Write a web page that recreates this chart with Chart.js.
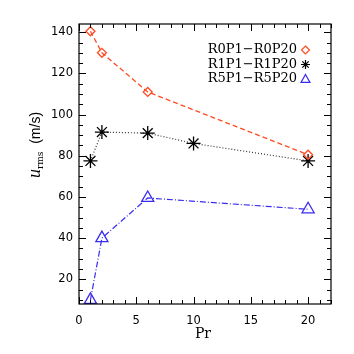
<!DOCTYPE html>
<html>
<head>
<meta charset="utf-8">
<script src="https://cdn.jsdelivr.net/npm/chart.js@4"></script>
<style>
  html, body { margin: 0; padding: 0; background: #fff; }
  #wrap { width: 354px; height: 354px; }
</style>
</head>
<body>
<div id="wrap"><canvas id="urms"></canvas></div>
<script>
// ── данные
const prR0 = [1, 2, 6, 20];
const uR0  = [140.5, 130, 111, 80.5];
const prR1 = [1, 2, 6, 10, 20];
const uR1  = [77.5, 91.5, 91, 86, 77.5];
const prR5 = [1, 2, 6, 20];
const uR5  = [10, 40, 59.5, 54];

const legendLabels = ['R0P1\u2212R0P20', 'R1P1\u2212R1P20', 'R5P1\u2212R5P20'];
const xTicks = [0, 5, 10, 15, 20];
const yTicks = [20, 40, 60, 80, 100, 120, 140];

const RED   = '#ff4a22';
const BLACK = '#000000';
const BLUE  = '#3a2cf0';

const toPts = (xs, ys) => xs.map((x, i) => ({ x, y: ys[i] }));

// ── рамка и засечки внутрь на всех четырёх сторонах
const frameTicks = {
    id: 'frameTicks',
    afterDraw(chart) {
        const { ctx, chartArea: a, scales: { x, y } } = chart;
        ctx.save();
        ctx.strokeStyle = '#000';
        ctx.lineWidth = 1.2;
        ctx.strokeRect(a.left, a.top, a.right - a.left, a.bottom - a.top);
        ctx.lineWidth = 1;
        ctx.beginPath();
        for (let v = 0; v <= 22; v += 1) {
            const px = Math.round(x.getPixelForValue(v)) + 0.5;
            const len = v % 5 === 0 ? 7 : 4;
            ctx.moveTo(px, a.bottom); ctx.lineTo(px, a.bottom - len);
            ctx.moveTo(px, a.top);    ctx.lineTo(px, a.top + len);
        }
        for (let v = 10; v <= 144; v += 5) {
            const py = Math.round(y.getPixelForValue(v)) + 0.5;
            const len = v % 20 === 0 ? 7 : 4;
            ctx.moveTo(a.left, py);  ctx.lineTo(a.left + len, py);
            ctx.moveTo(a.right, py); ctx.lineTo(a.right - len, py);
        }
        ctx.stroke();
        ctx.restore();
    }
};

// маркер для легенды
function marker(ctx, style, x, y, color) {
    ctx.save();
    ctx.strokeStyle = color;
    ctx.lineWidth = 1.2;
    ctx.beginPath();
    if (style === 'rectRot') {
        const r = 4;
        ctx.moveTo(x, y - r); ctx.lineTo(x + r, y); ctx.lineTo(x, y + r); ctx.lineTo(x - r, y); ctx.closePath();
    } else if (style === 'star') {
        const r = 4.5;
        for (let k = 0; k < 4; k++) {
            const ang = k * Math.PI / 4;
            ctx.moveTo(x - r * Math.cos(ang), y - r * Math.sin(ang));
            ctx.lineTo(x + r * Math.cos(ang), y + r * Math.sin(ang));
        }
    } else {
        const r = 4.5;
        ctx.moveTo(x, y - r); ctx.lineTo(x + r, y + r * 0.75); ctx.lineTo(x - r, y + r * 0.75); ctx.closePath();
    }
    ctx.stroke();
    ctx.restore();
}

// ── подписи осей и легенда
const annotations = {
    id: 'annotations',
    afterDraw(chart) {
        const { ctx } = chart;
        ctx.save();
        ctx.fillStyle = '#000';

        ctx.font = '13px "DejaVu Serif"';
        ctx.textAlign = 'right';
        ctx.textBaseline = 'middle';
        const styles = ['rectRot', 'star', 'triangle'];
        const colors = [RED, BLACK, BLUE];
        legendLabels.forEach((t, i) => {
            const ly = 50 + i * 14.5;
            ctx.fillText(t, 297, ly);
            marker(ctx, styles[i], 305.5, ly, colors[i]);
        });

        // ось X
        ctx.textAlign = 'center';
        ctx.textBaseline = 'alphabetic';
        ctx.font = '14px "DejaVu Serif"';
        ctx.fillText('Pr', 203, 338);

        // ось Y: u_rms (m/s)
        ctx.translate(35, 145);
        ctx.rotate(-Math.PI / 2);
        ctx.textAlign = 'left';
        const uFont = 'italic 18px "Liberation Serif"';
        const sFont = '9px "DejaVu Serif"';
        const tFont = '14px "Liberation Sans"';
        ctx.font = uFont;   const wu = ctx.measureText('u').width;
        ctx.font = sFont;   const ws = ctx.measureText('rms').width;
        ctx.font = tFont;   const wt = ctx.measureText('  (m/s)').width;
        let cx = -(wu + ws + wt) / 2;
        ctx.font = uFont; ctx.fillText('u', cx, 5); cx += wu;
        ctx.font = sFont; ctx.fillText('rms', cx, 8); cx += ws;
        ctx.font = tFont; ctx.fillText('  (m/s)', cx, 5);
        ctx.restore();
    }
};

const tickFont = { family: 'DejaVu Sans', size: 11.5 };

new Chart(document.getElementById('urms'), {
    type: 'scatter',
    data: {
        datasets: [
            {
                data:        toPts(prR0, uR0),
                showLine:    true,
                borderColor: RED,
                borderDash:  [5, 3],
                borderWidth: 1.3,
                pointStyle:  'rectRot',
                pointRadius: 4.5,
                pointBorderWidth: 1.3,
                pointBackgroundColor: 'rgba(0,0,0,0)',
                pointBorderColor: RED
            },
            {
                data:        toPts(prR1, uR1),
                showLine:    true,
                borderColor: '#333',
                borderDash:  [1, 2],
                borderWidth: 1.2,
                pointStyle:  'star',
                pointRadius: 7,
                pointBorderWidth: 1.3,
                pointBorderColor: BLACK
            },
            {
                data:        toPts(prR5, uR5),
                showLine:    true,
                borderColor: BLUE,
                borderDash:  [6, 2, 1, 2],
                borderWidth: 1.2,
                pointStyle:  'triangle',
                pointRadius: 7,
                pointBorderWidth: 1.3,
                pointBackgroundColor: 'rgba(0,0,0,0)',
                pointBorderColor: BLUE
            }
        ]
    },
    options: {
        responsive:          true,
        maintainAspectRatio: false,
        animation:           false,
        layout: { padding: { top: 24, right: 23, left: 0, bottom: 0 } },
        plugins: { legend: { display: false }, tooltip: { enabled: false } },
        scales: {
            x: {
                type: 'linear', min: 0, max: 22,
                grid: { display: false, drawTicks: false },
                border: { display: false },
                afterFit: (s) => { s.height = 50; },
                afterBuildTicks: (s) => { s.ticks = xTicks.map(v => ({ value: v })); },
                ticks: { color: '#000', font: tickFont, padding: 10, maxRotation: 0 }
            },
            y: {
                type: 'linear', min: 8, max: 144,
                grid: { display: false, drawTicks: false },
                border: { display: false },
                afterFit: (s) => { s.width = 79; },
                afterBuildTicks: (s) => { s.ticks = yTicks.map(v => ({ value: v })); },
                ticks: { color: '#000', font: tickFont, padding: 6 }
            }
        }
    },
    plugins: [frameTicks, annotations]
});
</script>
</body>
</html>
